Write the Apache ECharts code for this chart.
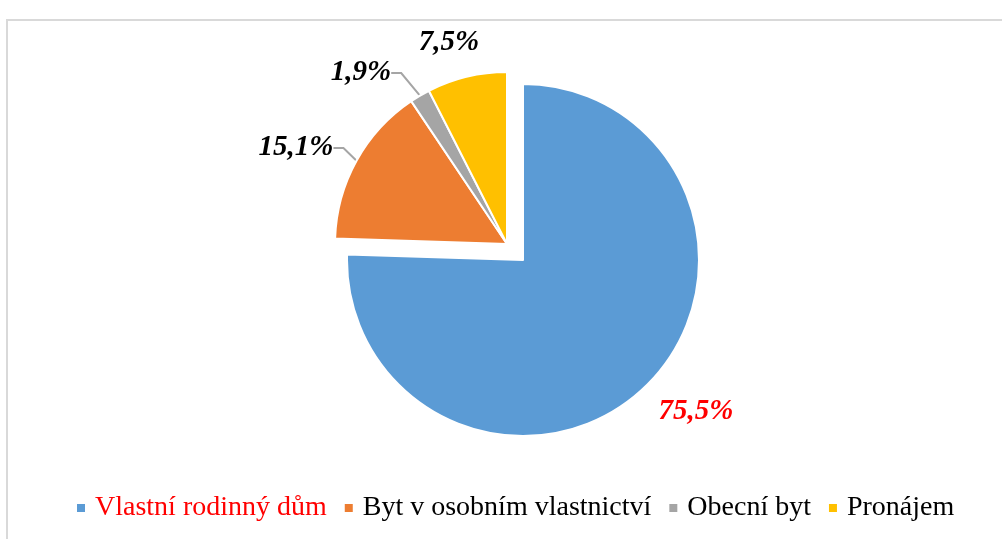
<!DOCTYPE html>
<html>
<head>
<meta charset="utf-8">
<script src="https://cdn.jsdelivr.net/npm/echarts@6/dist/echarts.min.js"></script>
<style>
html,body{margin:0;padding:0;background:#fff;}
#chart{width:1002px;height:539px;}
</style>
</head>
<body>
<div id="chart"></div>
<script>
const categories = ['Vlastní rodinný dům', 'Byt v osobním vlastnictví', 'Obecní byt', 'Pronájem'];
const values = [75.5, 15.1, 1.9, 7.5];
const labelTexts = ['75,5%', '15,1%', '1,9%', '7,5%'];
const colors = ['#5B9BD5', '#ED7D31', '#A5A5A5', '#FFC000'];
const labelColors = ['#FF0000', '#000000', '#000000', '#000000'];
const labelSpots = [[696, 412], [296, 148], [361, 73], [449, 43]];
const showLine = [false, true, true, false];

// group 0 = main slice, group 1 = exploded slices
const groups = [[0], [1, 2, 3]];
const centers = [[523, 260], [507, 244]];
const radii = [176, 172];

const chart = echarts.init(document.getElementById('chart'), null, {renderer: 'canvas'});

const series = groups.map((members, g) => ({
  type: 'pie',
  center: centers[g],
  radius: radii[g],
  startAngle: 90,
  clockwise: true,
  animation: false,
  silent: true,
  avoidLabelOverlap: false,
  itemStyle: {borderColor: '#ffffff', borderWidth: 2},
  data: categories.map((name, i) => {
    const on = members.includes(i);
    return {
      name: name,
      value: values[i],
      itemStyle: {color: colors[i], opacity: on ? 1 : 0, borderWidth: on ? 2 : 0},
      label: {
        show: on,
        formatter: labelTexts[i],
        color: labelColors[i],
        fontFamily: 'Liberation Serif',
        fontWeight: 'bold',
        fontStyle: 'italic',
        fontSize: 29
      },
      labelLine: {
        show: on && showLine[i],
        length: 8,
        length2: 10,
        lineStyle: {color: '#A5A5A5', width: 2}
      }
    };
  }),
  labelLayout: function (p) {
    const s = labelSpots[p.dataIndex];
    return {x: s[0], y: s[1], align: 'center', verticalAlign: 'middle'};
  }
}));

chart.setOption({
  backgroundColor: '#ffffff',
  graphic: [{
    type: 'rect',
    shape: {x: 7, y: 20, width: 1010, height: 540},
    style: {fill: 'none', stroke: '#D9D9D9', lineWidth: 2},
    silent: true
  }],
  legend: {
    left: 72,
    top: 489,
    icon: 'rect',
    itemWidth: 8,
    itemHeight: 8,
    itemGap: 18,
    selectedMode: false,
    textStyle: {
      fontFamily: 'Liberation Serif',
      fontSize: 28,
      color: '#000000',
      padding: [0, 0, 0, 5]
    },
    data: categories.map((name, i) => ({
      name: name,
      itemStyle: {color: colors[i], opacity: 1, borderWidth: 0},
      textStyle: {color: i === 0 ? '#FF0000' : '#000000'}
    }))
  },
  series: series
});
</script>
</body>
</html>
